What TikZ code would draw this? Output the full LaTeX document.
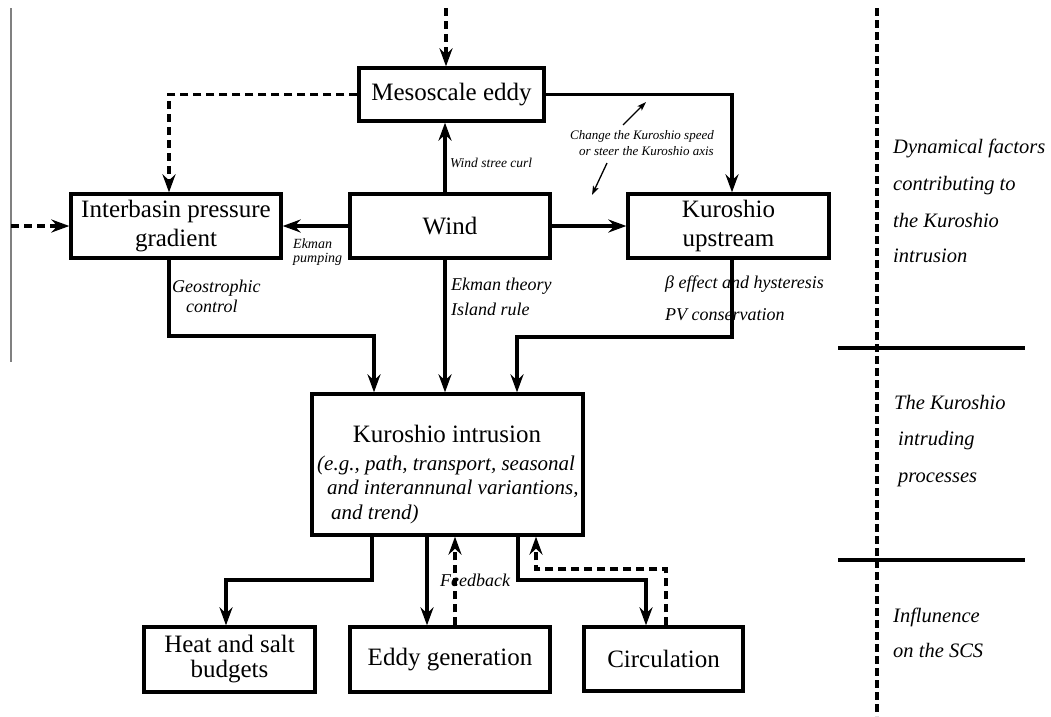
\documentclass[tikz,border=0pt]{standalone}
\usepackage{fontspec}
\setmainfont{Liberation Serif}
\usetikzlibrary{arrows.meta}
\tikzset{
  box/.style={draw,line width=3.3pt,inner sep=0pt,align=center,font=\fontsize{25}{29}\selectfont},
  arr/.style={line width=3.3pt,-{Stealth[length=18pt,width=13pt,inset=6pt]}},
  dasharr/.style={arr,dash pattern=on 8pt off 5pt},
  thinarr/.style={line width=1.3pt,-{Stealth[length=9pt,width=6pt,inset=2pt]}},
  sepline/.style={line width=3.3pt},
  lblA/.style={anchor=base west,inner sep=0pt,yshift=-6pt,font=\itshape\fontsize{18}{22}\selectfont},
  lblS/.style={anchor=base west,inner sep=0pt,yshift=-4.5pt,font=\itshape\fontsize{13.5}{16}\selectfont},
  lblK/.style={anchor=base west,inner sep=0pt,yshift=-7pt,font=\itshape\fontsize{21}{24}\selectfont},
  lblR/.style={anchor=base west,inner sep=0pt,yshift=-7pt,font=\itshape\fontsize{20.5}{24}\selectfont},
}
\begin{document}
\begin{tikzpicture}[x=1pt,y=-1pt]
\useasboundingbox (0,0) rectangle (1051,716);

% boxes
\node[box,minimum width=185pt,minimum height=53pt] (meso) at (451.5,94.5) {Mesoscale eddy};
\node[box,minimum width=210pt,minimum height=64pt] (inter) at (176,226) {Interbasin pressure\\gradient};
\node[box,minimum width=200pt,minimum height=64pt] (wind) at (450,226) {Wind};
\node[box,minimum width=201pt,minimum height=64pt] (kup) at (728.5,226) {Kuroshio\\upstream};
\node[box,minimum width=271pt,minimum height=141pt] (kin) at (447.5,464.5) {};
\node[box,font=\fontsize{25}{25}\selectfont,minimum width=171pt,minimum height=65pt] (heat) at (229.5,659.5) {Heat and salt\\budgets};
\node[box,minimum width=200pt,minimum height=65pt] (eddy) at (450,659.5) {Eddy generation};
\node[box,minimum width=159pt,minimum height=64pt] (circ) at (663.5,659) {Circulation};

% text inside Kuroshio intrusion
\node[inner sep=0pt,font=\fontsize{25}{29}\selectfont] (kintitle) at (447,434) {Kuroshio intrusion};
\node[lblK] (kin1) at (317,463) {(e.g., path, transport, seasonal};
\node[lblK] (kin2) at (327,487) {and interannunal variantions,};
\node[lblK] (kin3) at (331,512) {and trend)};

% helper coordinates
\coordinate (leftline) at (11,8);
\coordinate (leftend) at (11,362);
\coordinate (topin) at (446,8);
\coordinate (xa) at (169,0);
\coordinate (xw) at (445,0);
\coordinate (xk) at (732,0);
\coordinate (b1) at (169,336);
\coordinate (b2) at (374,336);
\coordinate (b3) at (732,337);
\coordinate (b4) at (517,337);
\coordinate (b5) at (372,580);
\coordinate (b6) at (226,580);
\coordinate (xe) at (427,0);
\coordinate (xf) at (455,0);
\coordinate (b7) at (518,580);
\coordinate (b8) at (646,580);
\coordinate (b9) at (666,569);
\coordinate (b10) at (536,569);

% gray line on the left
\draw[gray,line width=1.5pt] (leftline) -- (leftend);

% connectors
\draw[dasharr] (topin) -- (meso.north -| topin);
\draw[dasharr] (meso.west) -| (inter.north -| xa);
\draw[dasharr] (inter.west -| leftline) -- (inter.west);
\draw[arr] (wind.west) -- (inter.east);
\draw[arr] (wind.north -| xw) -- (meso.south -| xw);
\draw[arr] (wind.east) -- (kup.west);
\draw[arr] (meso.east) -| (kup.north -| xk);
\draw[arr] (inter.south -| b1) -- (b1) -- (b2) -- (kin.north -| b2);
\draw[arr] (wind.south -| xw) -- (kin.north -| xw);
\draw[arr] (kup.south -| b3) -- (b3) -- (b4) -- (kin.north -| b4);
\draw[arr] (kin.south -| b5) -- (b5) -- (b6) -- (heat.north -| b6);
\draw[arr] (kin.south -| xe) -- (eddy.north -| xe);
\draw[arr] (kin.south -| b7) -- (b7) -- (b8) -- (circ.north -| b8);

% labels
\node[lblS] (wsc) at (450,163) {Wind stree curl};
\node[lblS,font=\itshape\fontsize{14}{14}\selectfont] (ekp1) at (293,244) {Ekman};
\node[lblS,font=\itshape\fontsize{14}{14}\selectfont] (ekp2) at (293,258) {pumping};
\node[lblA] (geo1) at (172,286) {Geostrophic};
\node[lblA] (geo2) at (186,306) {control};
\node[lblA] (ek1) at (451,284) {Ekman theory};
\node[lblA] (ek2) at (451,309) {Island rule};
\node[lblA] (be1) at (665,282) {β effect and hysteresis};
\node[lblA] (be2) at (665,314) {PV conservation};
\node[lblS,font=\itshape\fontsize{13}{15}\selectfont] (ch1) at (570,135) {Change the Kuroshio speed};
\node[lblS,font=\itshape\fontsize{13}{15}\selectfont] (ch2) at (579,151) {or steer the Kuroshio axis};
\node[lblA] (fb) at (440,580) {Feedback};

% dashed feedback arrows (drawn over labels)
\draw[dasharr] (eddy.north -| xf) -- (kin.south -| xf);
\draw[dasharr] (circ.north -| b9) -- (b9) -- (b10) -- (kin.south -| b10);

% annotation arrows
\coordinate (a1s) at (623,125);
\coordinate (a1e) at (646,102);
\coordinate (a2s) at (607,163);
\coordinate (a2e) at (592,195);
\draw[thinarr] (a1s) -- (a1e);
\draw[thinarr] (a2s) -- (a2e);

% right-hand division
\coordinate (dv1) at (877,8);
\coordinate (dv2) at (877,716);
\coordinate (h1a) at (838,348);
\coordinate (h1b) at (1025,348);
\coordinate (h2a) at (838,560);
\coordinate (h2b) at (1025,560);
\draw[line width=3.3pt,dash pattern=on 8pt off 4pt] (dv1) -- (dv2);
\draw[sepline] (h1a) -- (h1b);
\draw[sepline] (h2a) -- (h2b);

\node[lblR] (r1) at (893,146) {Dynamical factors};
\node[lblR] (r2) at (893,183) {contributing to};
\node[lblR] (r3) at (893,220) {the Kuroshio};
\node[lblR] (r4) at (893,255) {intrusion};
\node[lblR] (r5) at (894,402) {The Kuroshio};
\node[lblR] (r6) at (898,438) {intruding};
\node[lblR] (r7) at (898,475) {processes};
\node[lblR] (r8) at (893,615) {Influnence};
\node[lblR] (r9) at (893,650) {on the SCS};
\end{tikzpicture}
\end{document}
